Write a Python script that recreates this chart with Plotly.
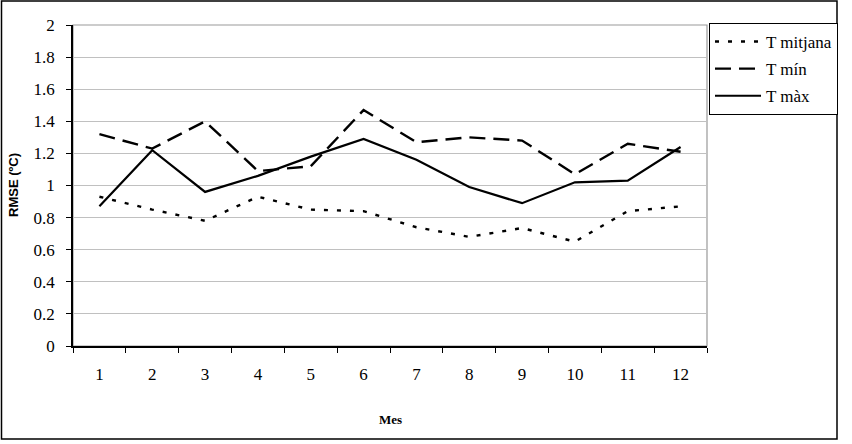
import plotly.graph_objects as go

months = [1, 2, 3, 4, 5, 6, 7, 8, 9, 10, 11, 12]
month_labels = [str(m) for m in months]
t_mitjana = [0.93, 0.85, 0.78, 0.93, 0.85, 0.84, 0.74, 0.68, 0.735, 0.65, 0.84, 0.87]
t_min = [1.32, 1.23, 1.40, 1.09, 1.12, 1.47, 1.27, 1.30, 1.28, 1.07, 1.26, 1.21]
t_max = [0.87, 1.22, 0.96, 1.06, 1.18, 1.29, 1.16, 0.99, 0.89, 1.02, 1.03, 1.24]
y_ticks = [0, 0.2, 0.4, 0.6, 0.8, 1, 1.2, 1.4, 1.6, 1.8, 2]

W, H = 852, 444
L, R, T, B = 73, 707, 25, 346

def px(x):
    return (x - L) / (R - L)

def py(y):
    return (B - y) / (B - T)

serif = "Liberation Serif"

fig = go.Figure()
fig.add_trace(go.Scatter(x=month_labels, y=t_mitjana, mode="lines", name="T mitjana",
                         legendgroup="a",
                         line=dict(color="black", width=2.4, dash="4px,9px")))
fig.add_trace(go.Scatter(x=month_labels, y=t_min, mode="lines", name="T mín",
                         legendgroup="b",
                         line=dict(color="black", width=2.4, dash="16px,8px")))
fig.add_trace(go.Scatter(x=month_labels, y=t_max, mode="lines", name="T màx",
                         legendgroup="c",
                         line=dict(color="black", width=2.2)))

fig.update_layout(
    width=W, height=H,
    margin=dict(l=L, r=W - R, t=T, b=H - B),
    paper_bgcolor="white", plot_bgcolor="white",
    showlegend=True,
    legend=dict(x=px(709), y=py(23), xanchor="left", yanchor="top",
                bordercolor="black", borderwidth=1, bgcolor="white",
                font=dict(family=serif, size=17, color="black"),
                tracegroupgap=2, itemwidth=46),
    xaxis=dict(type="category", showgrid=False, showline=True, linecolor="black", linewidth=1.5,
               ticks="outside", tickson="boundaries", ticklen=5, tickcolor="black",
               tickfont=dict(family=serif, size=17, color="black"),
               ticklabelstandoff=12, range=[-0.5, 11.5]),
    yaxis=dict(range=[0, 2], tickvals=y_ticks, ticktext=[f"{v:g}" for v in y_ticks],
               showgrid=True, gridcolor="#c0c0c0", gridwidth=1,
               showline=True, linecolor="black", linewidth=1.5,
               ticks="outside", ticklen=5, tickcolor="black",
               tickfont=dict(family=serif, size=17, color="black"),
               ticklabelstandoff=8, zeroline=False),
    shapes=[
        dict(type="rect", xref="paper", yref="paper", x0=0, x1=1, y0=0, y1=1,
             line=dict(color="#999999", width=1.2), layer="below"),
        dict(type="rect", xref="paper", yref="paper", x0=px(1.5), x1=px(837), y0=py(439), y1=py(1),
             line=dict(color="black", width=1.5)),
    ],
    annotations=[
        dict(text="<b>RMSE (ºC)</b>", xref="paper", yref="paper", x=px(13), y=py(185),
             showarrow=False, textangle=-90, xanchor="center", yanchor="middle",
             font=dict(family="Liberation Sans", size=13, color="black")),
        dict(text="<b>Mes</b>", xref="paper", yref="paper", x=px(390), y=py(419),
             showarrow=False, xanchor="center", yanchor="middle",
             font=dict(family=serif, size=13, color="black")),
    ],
)

fig.write_html("out.html")
